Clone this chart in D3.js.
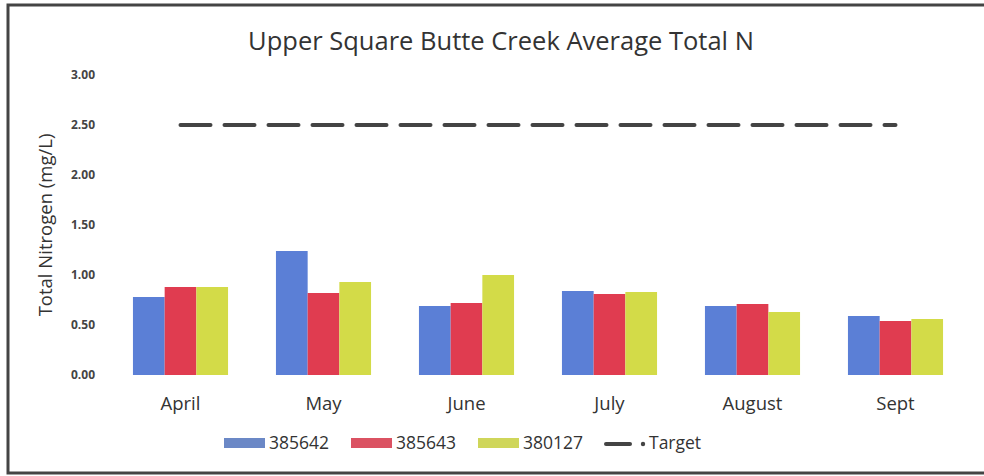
<!DOCTYPE html>
<html>
<head>
<meta charset="utf-8">
<script src="https://cdn.jsdelivr.net/npm/d3@7"></script>
<style>
  body { margin: 0; background: #fff; }
  svg text { font-family: "Open Sans", Lato, sans-serif; fill: #333; }
</style>
</head>
<body>
<svg id="chart" width="984" height="476"></svg>
<script>
var months = ["April", "May", "June", "July", "August", "Sept"];
var siteNames = ["385642", "385643", "380127"];
var site385642 = [0.78, 1.24, 0.69, 0.84, 0.69, 0.59];
var site385643 = [0.88, 0.82, 0.72, 0.81, 0.71, 0.54];
var site380127 = [0.88, 0.93, 1.00, 0.83, 0.63, 0.56];
var target = 2.5;
var yTicks = [0, 0.5, 1, 1.5, 2, 2.5, 3];

var colors = ["#5b7fd6", "#e03c50", "#d3db48"];
var legendColors = ["#6b88c6", "#db5262", "#cfd65a"];

var svg = d3.select("#chart");

// frame (no right edge in the scan)
svg.append("path")
  .attr("d", "M984,5 H8 V473 H984")
  .attr("fill", "none")
  .attr("stroke", "#444")
  .attr("stroke-width", 3);

var x = d3.scaleBand()
  .domain(months)
  .range([109, 967])
  .paddingInner(0.335)
  .paddingOuter(0.1675);

var xSub = d3.scaleBand()
  .domain(siteNames)
  .range([0, x.bandwidth()]);

var y = d3.scaleLinear()
  .domain([0, 3])
  .range([375, 75]);

svg.append("text")
  .attr("x", 501)
  .attr("y", 50)
  .attr("text-anchor", "middle")
  .style("font-size", "25.5px")
  .style("font-weight", "500")
  .text("Upper Square Butte Creek Average Total N");

svg.append("g")
  .selectAll("text")
  .data(yTicks)
  .enter()
  .append("text")
  .attr("x", 95)
  .attr("y", function (d) { return y(d); })
  .attr("dy", "0.35em")
  .attr("text-anchor", "end")
  .style("font-size", "12px")
  .style("font-weight", "bold")
  .style("fill", "#444")
  .text(function (d) { return d.toFixed(2); });

svg.append("text")
  .attr("transform", "translate(52,225) rotate(-90)")
  .attr("text-anchor", "middle")
  .style("font-size", "18.5px")
  .text("Total Nitrogen (mg/L)");

var series = [site385642, site385643, site380127];

var groups = svg.append("g")
  .selectAll("g")
  .data(series)
  .enter()
  .append("g")
  .attr("fill", function (d, i) { return colors[i]; });

groups.each(function (vals, si) {
  d3.select(this).selectAll("rect")
    .data(vals)
    .enter()
    .append("rect")
    .attr("x", function (d, i) { return x(months[i]) + xSub(siteNames[si]); })
    .attr("y", function (d) { return y(d); })
    .attr("width", xSub.bandwidth())
    .attr("height", function (d) { return y(0) - y(d); });
});

svg.append("g")
  .selectAll("text")
  .data(months)
  .enter()
  .append("text")
  .attr("x", function (d) { return x(d) + x.bandwidth() / 2; })
  .attr("y", 410)
  .attr("text-anchor", "middle")
  .style("font-size", "18.5px")
  .text(function (d) { return d; });

// target line, April centre to Sept centre
var tx0 = x("April") + x.bandwidth() / 2;
var tx1 = x("Sept") + x.bandwidth() / 2;
svg.append("line")
  .attr("x1", tx0)
  .attr("x2", tx1)
  .attr("y1", y(target))
  .attr("y2", y(target))
  .attr("stroke", "#444")
  .attr("stroke-width", 4)
  .attr("stroke-linecap", "round")
  .attr("stroke-dasharray", "30,14");

// legend
var legend = svg.append("g");
var legX = [224, 351, 478];
siteNames.forEach(function (name, i) {
  legend.append("rect")
    .attr("x", legX[i])
    .attr("y", 438)
    .attr("width", 41)
    .attr("height", 10)
    .attr("fill", legendColors[i]);
  legend.append("text")
    .attr("x", legX[i] + 45)
    .attr("y", 443)
    .attr("dy", "0.35em")
    .style("font-size", "17.5px")
    .text(name);
});
legend.append("line")
  .attr("x1", 606).attr("x2", 630)
  .attr("y1", 444).attr("y2", 444)
  .attr("stroke", "#444")
  .attr("stroke-width", 4)
  .attr("stroke-linecap", "round");
legend.append("circle")
  .attr("cx", 643).attr("cy", 444).attr("r", 2.2)
  .attr("fill", "#444");
legend.append("text")
  .attr("x", 649)
  .attr("y", 443)
  .attr("dy", "0.35em")
  .style("font-size", "17.5px")
  .text("Target");
</script>
</body>
</html>
